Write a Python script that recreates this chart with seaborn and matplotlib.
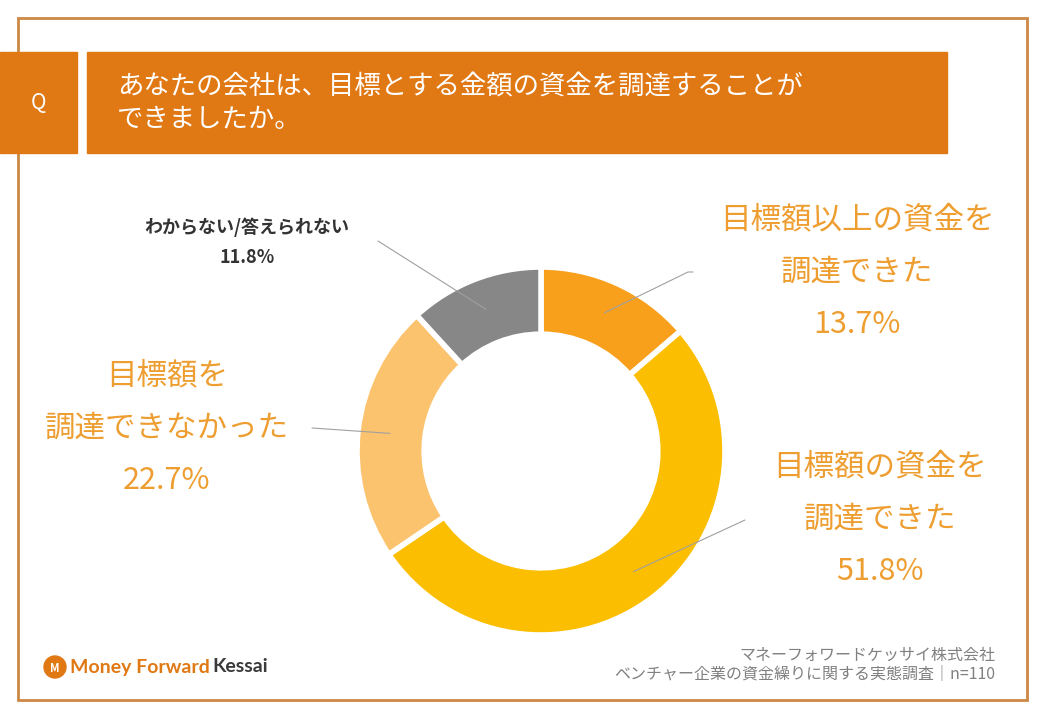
import matplotlib.pyplot as plt
import matplotlib.patches as mpatches
import numpy as np
import seaborn as sns

# chart data
categories = ["目標額以上の資金を\n調達できた", "目標額の資金を\n調達できた",
              "目標額を\n調達できなかった", "わからない/答えられない"]
values = [13.7, 51.8, 22.7, 11.8]
slice_colors = ["#F8A01C", "#FBBE00", "#FCC36E", "#878787"]

title = "あなたの会社は、目標とする金額の資金を調達することが\nできましたか。"
source_lines = ["マネーフォワードケッサイ株式会社",
                "ベンチャー企業の資金繰りに関する実態調査｜n=110"]

sns.set_style("white")
plt.rcParams['font.family'] = ['Noto Sans CJK JP', 'DejaVu Sans']

W, H = 1040, 720
fig = plt.figure(figsize=(W / 100, H / 100), dpi=100)
ax = fig.add_axes([0, 0, 1, 1])

def Y(y):
    # pixel row (from top) -> data y (from bottom)
    return H - y

# donut
cx, cy, r_out = 541, Y(451), 184
ring = 0.365
wedges, _ = ax.pie(values, colors=slice_colors, startangle=90, counterclock=False,
                   center=(cx, cy), radius=r_out,
                   wedgeprops=dict(width=r_out * ring, edgecolor="white", linewidth=4))
ax.set_xlim(0, W)
ax.set_ylim(0, H)
ax.set_aspect("equal")
ax.axis("off")

# frame
ax.add_patch(mpatches.Rectangle((18, Y(700)), 1009, 682, fill=False,
                                edgecolor="#CC8844", linewidth=2))
# header boxes
head = "#E07814"
ax.add_patch(mpatches.Rectangle((0, Y(153)), 77, 101, color=head))
ax.add_patch(mpatches.Rectangle((87, Y(153)), 860, 101, color=head))
ax.text(38, Y(103), "Q", color="white", fontsize=15, ha="center", va="center")
ax.text(117, Y(103), title, color="white", fontsize=19, ha="left", va="center",
        linespacing=1.25)

# labels and leader lines
label_pos = [(857, 272), (880, 519), (167, 428), (247, 242)]
line_start = [(693, 272), (745, 520), (312, 428), (378, 241)]
lab_color = "#EE9E30"
cum = np.cumsum([0] + values[:-1])
for i, (cat, v) in enumerate(zip(categories, values)):
    mid = np.deg2rad(90 - (cum[i] + v / 2) * 3.6)
    ex, ey = cx + 152 * np.cos(mid), cy + 152 * np.sin(mid)
    sx, sy = line_start[i]
    if i == 0:
        ax.plot([sx, sx - 5, ex], [Y(sy), Y(sy), ey], color="#A0A0A0", lw=0.8)
    else:
        ax.plot([sx, ex], [Y(sy), ey], color="#A0A0A0", lw=0.8)
    lx, ly = label_pos[i]
    if i < 3:
        ax.text(lx, Y(ly), f"{cat}\n{v}%", color=lab_color, fontsize=22,
                ha="center", va="center", linespacing=1.88)
    else:
        ax.text(lx, Y(ly), f"{cat}\n{v}%", color="#333333", fontsize=13,
                fontweight="bold", ha="center", va="center", linespacing=1.72)

# footer
ax.text(995, Y(655), source_lines[0], color="#808080", fontsize=11.5,
        ha="right", va="center")
ax.text(995, Y(674), source_lines[1], color="#808080", fontsize=11.5,
        ha="right", va="center")

# logo
ax.add_patch(mpatches.Circle((55, Y(667)), 11, color="#E07814"))
ax.text(55, Y(668), "M", color="white", fontsize=8, fontweight="bold",
        ha="center", va="center")
ax.text(70, Y(667), "Money Forward", color="#E07814", fontsize=14,
        fontweight="bold", ha="left", va="center", family=["Lato", "DejaVu Sans"])
ax.text(212, Y(667), "Kessai", color="#3A3A3A", fontsize=14,
        fontweight="bold", ha="left", va="center", family=["Lato", "DejaVu Sans"])

fig.savefig("out.png", dpi=100)
